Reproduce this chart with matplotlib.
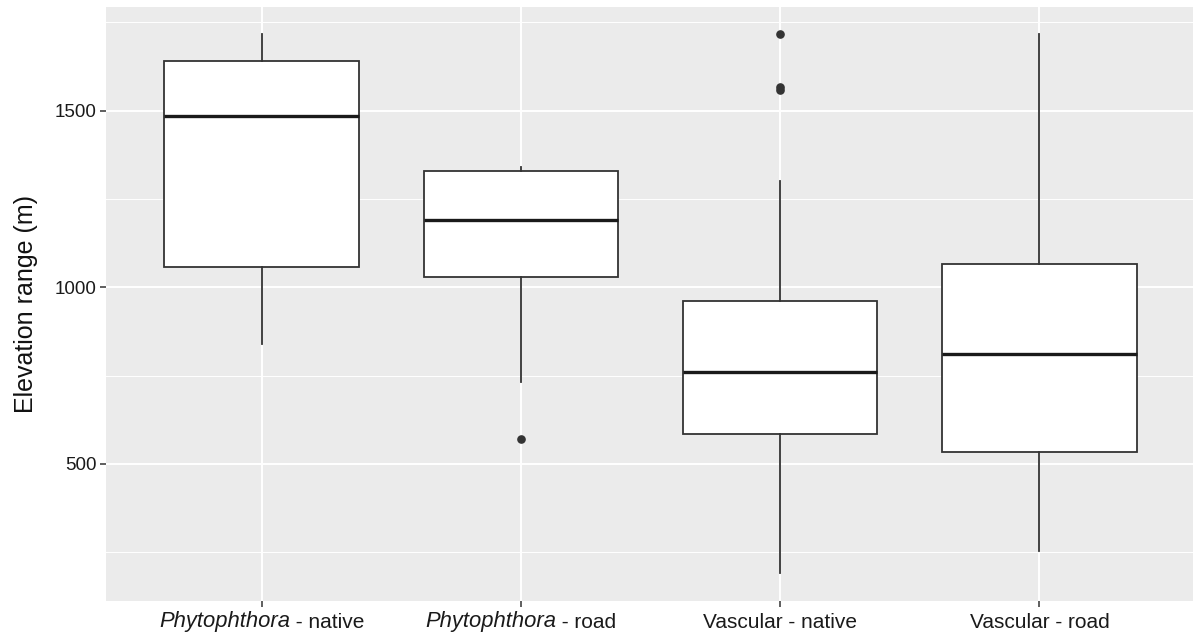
import matplotlib
matplotlib.use("Agg")
import matplotlib.pyplot as plt
import matplotlib.transforms as mtransforms

plt.rcParams['font.family'] = ['Liberation Sans', 'DejaVu Sans']

# ---- data ----
categories = ["Phytophthora - native", "Phytophthora - road",
              "Vascular - native", "Vascular - road"]
label_italic = ["Phytophthora", "Phytophthora", "", ""]
label_plain = [" - native", " - road", "Vascular - native", "Vascular - road"]
whisker_low = [840, 732, 192, 254]
q1 = [1058, 1030, 585, 534]
median = [1485, 1191, 760, 811]
q3 = [1641, 1329, 961, 1066]
whisker_high = [1717, 1340, 1301, 1717]
outliers = [[], [571], [1716, 1566, 1558], []]
y_ticks = [500, 1000, 1500]
y_minor = [250, 750, 1250, 1750]
y_label = "Elevation range (m)"

stats = []
for i in range(len(categories)):
    stats.append(dict(med=median[i], q1=q1[i], q3=q3[i],
                      whislo=whisker_low[i], whishi=whisker_high[i],
                      fliers=outliers[i], label=categories[i]))

W, H = 1193, 637
fig = plt.figure(figsize=(W / 100, H / 100), dpi=100)
left, right, top, bottom = 106, 1195, 6.7, 600.7
ax = fig.add_axes([left / W, (H - bottom) / H, (right - left) / W, (bottom - top) / H])
ax.set_facecolor('#EBEBEB')

positions = list(range(1, len(categories) + 1))
ax.bxp(stats, positions=positions, widths=0.75, showcaps=False, patch_artist=True,
       boxprops=dict(facecolor='white', edgecolor='#333333', linewidth=1.3),
       whiskerprops=dict(color='#333333', linewidth=1.3),
       medianprops=dict(color='#1a1a1a', linewidth=2.4),
       flierprops=dict(marker='o', markerfacecolor='#333333', markeredgecolor='#333333',
                       markersize=5.2, linestyle='none'),
       zorder=3)

ax.set_xlim(0.4, 4.6)
ax.set_ylim(113, 1794)
ax.set_yticks(y_ticks)
ax.set_yticks(y_minor, minor=True)
ax.set_xticks(positions)
ax.set_xticklabels([""] * len(categories))

ax.grid(which='major', axis='both', color='white', linewidth=1.4, zorder=0)
ax.grid(which='minor', axis='y', color='white', linewidth=0.7, zorder=0)
ax.set_axisbelow(True)

for s in ax.spines.values():
    s.set_visible(False)

ax.tick_params(axis='both', which='major', length=4, width=1.1, color='#333333',
               labelcolor='#1a1a1a', pad=3)
ax.tick_params(axis='y', which='minor', length=0)
ax.tick_params(axis='y', labelsize=13.5)

ax.set_ylabel(y_label, fontsize=18, color='#111111', labelpad=12)

# x tick labels with italic genus names, all on a common baseline
renderer = fig.canvas.get_renderer()
base = mtransforms.blended_transform_factory(ax.transData, ax.transAxes)
baseline_px = 627.5 - bottom
for i, pos in enumerate(positions):
    parts = []
    if label_italic[i]:
        parts.append((label_italic[i], 'italic', 15.8))
    parts.append((label_plain[i], 'normal', 15))
    texts = []
    widths = []
    for txt, style, size in parts:
        t = ax.text(pos, 0, txt, fontstyle=style, fontsize=size, color='#1a1a1a',
                    ha='left', va='baseline', transform=base, clip_on=False)
        texts.append(t)
        widths.append(t.get_window_extent(renderer).width)
    total = sum(widths)
    x0 = -total / 2
    for t, w in zip(texts, widths):
        t.set_transform(base + mtransforms.Affine2D().translate(x0, -baseline_px))
        x0 += w

fig.savefig("out.png", dpi=100)
